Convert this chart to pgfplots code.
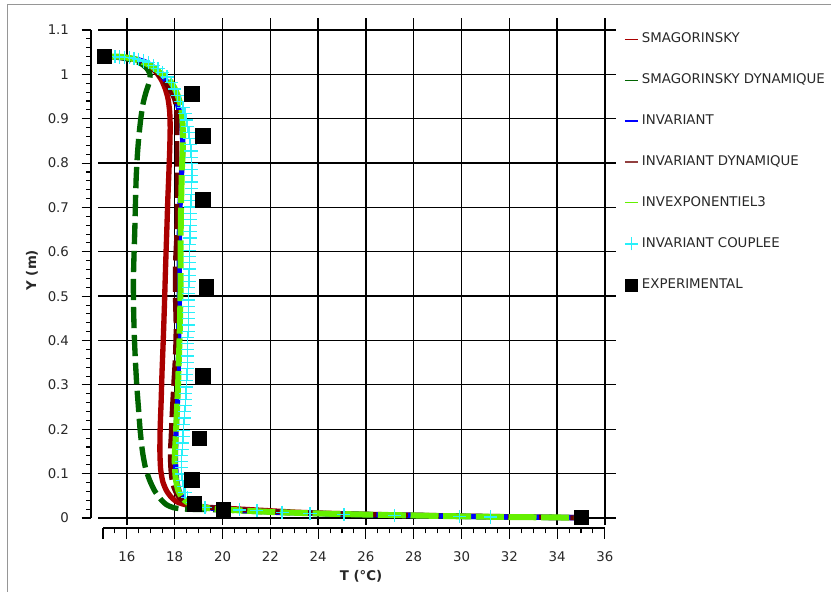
\documentclass[border=0pt]{standalone}
\usepackage{fontspec}
\setmainfont{DejaVu Sans}
\usepackage{pgfplots}
\pgfplotsset{compat=1.18}
\definecolor{smagred}{RGB}{170,0,0}
\definecolor{smagdyn}{RGB}{0,100,0}
\definecolor{invblue}{RGB}{0,0,255}
\definecolor{invdyn}{RGB}{110,0,0}
\definecolor{invexp}{RGB}{100,240,0}
\definecolor{invcyan}{RGB}{40,240,250}
\definecolor{framegray}{RGB}{150,150,150}
\definecolor{txt}{RGB}{40,40,40}
\begin{document}
\begin{tikzpicture}
\pgfplotsset{every axis/.append style={font=\fontsize{10}{12}\selectfont, /pgf/number format/assume math mode=true}}
% frame
\draw[framegray, line width=0.75pt] (5.25pt,0pt) -- (5.25pt,440.25pt) -- (623.25pt,440.25pt);
% offset y axis
\begin{axis}[at={(68.25pt,55.5pt)}, anchor=south west, x=1pt, y=332.7pt,
 xmin=0,xmax=1,ymin=0,ymax=1.1,
 axis y line=left, axis x line=none, axis line style={-, line width=1pt},
 xtick=\empty,
 ytick={0,0.1,0.2,0.3,0.4,0.5,0.6,0.7,0.8,0.9,1,1.1},
 yticklabels={0,0.1,0.2,0.3,0.4,0.5,0.6,0.7,0.8,0.9,1,1.1},
 minor y tick num=4,
 tick align=outside, major tick length=7pt, minor tick length=3.75pt,
 tick style={black, line width=0.8pt},
 yticklabel style={txt},
 yticklabel shift=6pt,
 ylabel={\textbf{Y (m)}},
 every axis y label/.style={at={(axis description cs:-44.25,0.508)}, rotate=90, anchor=center, txt},
]
\end{axis}
% offset x axis
\begin{axis}[at={(77.25pt,48pt)}, anchor=south west, x=17.925pt, y=1pt,
 xmin=15,xmax=36,ymin=0,ymax=1,
 axis x line=bottom, axis y line=none, axis line style={-, line width=1pt},
 ytick=\empty,
 xtick={16,18,20,22,24,26,28,30,32,34,36},
 xticklabels={16,18,20,22,24,26,28,30,32,34,36},
 extra x ticks={15}, extra x tick labels={},
 minor xtick={15.5,16,...,35.5},
 tick align=outside, major tick length=8pt, minor tick length=4pt,
 tick style={black, line width=0.8pt},
 xticklabel style={txt},
 xticklabel shift=6pt,
 xlabel={\textbf{T (°C)}},
 every axis x label/.style={at={(axis description cs:0.514,-36)}, anchor=center, txt},
]
\end{axis}
% main axis: grid + data
\begin{axis}[at={(73.5pt,50.25pt)}, anchor=south west, x=17.925pt, y=332.7pt,
 xmin=14.79, xmax=36.46, ymin=-0.016, ymax=1.127,
 axis line style={draw=none},
 xtick={16,18,20,22,24,26,28,30,32,34,36},
 ytick={0,0.1,0.2,0.3,0.4,0.5,0.6,0.7,0.8,0.9,1,1.1},
 xticklabel={\relax}, yticklabel={\relax},
 major tick length=0pt, minor tick length=0pt,
 grid=major,
 major grid style={black, line width=1pt},
 clip=false,
 legend cell align=left,
 legend style={at={(axis description cs:1,1)}, anchor=north west, xshift=6pt, yshift=-11pt,
   draw=none, fill=none, inner sep=0pt, row sep=20.6pt,
   nodes={inner ysep=0pt, inner xsep=2.5pt, text height=7.5pt, text depth=2.5pt, text=txt}},
]
\addplot[smagred, line width=4pt, line join=round, smooth, tension=0.4,
  legend image code/.code={\draw[smagred, line width=1.1pt] (0pt,0pt) -- (9.75pt,0pt);}]
 table {
15.30 1.040
15.80 1.038
16.30 1.034
16.70 1.027
17.00 1.017
17.25 1.003
17.45 0.987
17.60 0.968
17.72 0.945
17.79 0.915
17.81 0.880
17.79 0.830
17.75 0.770
17.71 0.717
17.67 0.650
17.62 0.570
17.57 0.480
17.52 0.400
17.47 0.330
17.43 0.260
17.39 0.200
17.38 0.150
17.41 0.110
17.50 0.082
17.65 0.062
17.85 0.047
18.10 0.036
18.50 0.029
19.00 0.025
20.00 0.022
21.00 0.019
22.00 0.016
23.00 0.013
24.00 0.011
26.00 0.008
28.00 0.006
30.00 0.004
32.00 0.0025
34.00 0.001
35.00 0.0005
};
\addlegendentry{SMAGORINSKY}
\addplot[smagdyn, line width=4pt, dash pattern=on 16pt off 5pt, smooth, tension=0.4,
  legend image code/.code={\draw[smagdyn, line width=1.1pt] (0pt,0pt) -- (9.75pt,0pt);}]
 table {
15.30 1.040
15.80 1.037
16.30 1.031
16.65 1.022
16.88 1.010
16.97 0.998
16.92 0.980
16.80 0.960
16.68 0.935
16.58 0.900
16.50 0.860
16.44 0.820
16.39 0.770
16.36 0.717
16.33 0.650
16.29 0.580
16.27 0.530
16.28 0.470
16.31 0.410
16.35 0.360
16.41 0.300
16.48 0.250
16.55 0.200
16.65 0.150
16.78 0.112
16.95 0.085
17.15 0.062
17.40 0.043
17.65 0.030
17.95 0.023
18.40 0.020
19.00 0.019
20.00 0.018
22.00 0.013
24.00 0.010
26.00 0.0075
28.00 0.0055
30.00 0.0035
32.00 0.002
35.00 0.0005
};
\addlegendentry{SMAGORINSKY DYNAMIQUE}
\addplot[invblue, line width=4pt, line join=round, smooth, tension=0.4,
  legend image code/.code={\draw[invblue, line width=1.1pt] (0pt,0pt) -- (9.75pt,0pt);}]
 table {
15.30 1.040
15.80 1.038
16.30 1.035
16.80 1.027
17.20 1.012
17.55 0.992
17.85 0.968
18.05 0.945
18.20 0.915
18.30 0.880
18.34 0.840
18.30 0.790
18.24 0.730
18.20 0.660
18.19 0.590
18.19 0.510
18.17 0.430
18.15 0.345
18.11 0.260
18.05 0.187
18.03 0.130
18.08 0.085
18.20 0.058
18.40 0.042
18.80 0.030
19.40 0.023
20.00 0.020
22.00 0.0135
24.00 0.0100
26.00 0.0075
28.00 0.0055
30.00 0.0035
32.00 0.002
35.00 0.0005
};
\addlegendentry{INVARIANT}
\addplot[invdyn, line width=3.5pt, dash pattern=on 19pt off 4.5pt, smooth, tension=0.4,
  legend image code/.code={\draw[invdyn!75!white, line width=1.1pt] (0pt,0pt) -- (9.75pt,0pt);}]
 table {
15.30 1.040
15.80 1.038
16.30 1.034
16.80 1.025
17.25 1.003
17.55 0.985
17.80 0.965
18.00 0.942
18.08 0.915
18.10 0.880
18.10 0.800
18.10 0.717
18.08 0.640
18.02 0.570
18.02 0.500
18.05 0.430
18.02 0.364
17.95 0.300
17.88 0.230
17.84 0.180
17.81 0.150
17.82 0.120
17.86 0.093
17.95 0.070
18.10 0.052
18.30 0.040
18.70 0.030
19.20 0.025
20.00 0.021
22.00 0.0145
24.00 0.0105
26.00 0.008
28.00 0.0055
30.00 0.0035
32.00 0.002
35.00 0.0005
};
\addlegendentry{INVARIANT DYNAMIQUE}
\addplot[invexp, line width=4.5pt, dash pattern=on 21pt off 3.5pt, smooth, tension=0.4,
  legend image code/.code={\draw[invexp, line width=1.1pt] (0pt,0pt) -- (9.75pt,0pt);}]
 table {
15.30 1.040
15.84 1.039
16.40 1.033
16.97 1.020
17.40 1.003
17.80 0.985
18.00 0.968
18.14 0.950
18.25 0.930
18.30 0.913
18.35 0.860
18.33 0.820
18.30 0.785
18.27 0.717
18.25 0.640
18.25 0.560
18.24 0.500
18.21 0.420
18.17 0.350
18.14 0.300
18.09 0.240
18.05 0.190
18.01 0.150
18.00 0.125
18.04 0.090
18.14 0.063
18.30 0.046
18.50 0.036
18.90 0.027
19.40 0.022
20.00 0.019
22.00 0.0135
24.00 0.010
26.00 0.0075
28.00 0.0055
30.00 0.0035
32.00 0.002
35.00 0.0005
};
\addlegendentry{INVEXPONENTIEL3}
\addplot[invcyan, only marks, mark=+, mark size=4.9pt, mark options={line width=0.9pt},
  legend image code/.code={\draw[invcyan, line width=0.9pt] (0pt,0pt) -- (9.75pt,0pt) (4.875pt,-4.875pt) -- (4.875pt,4.875pt);}]
 table {
15.30 1.040
15.50 1.040
15.70 1.039
15.90 1.038
16.10 1.037
16.30 1.035
16.50 1.033
16.70 1.030
16.90 1.026
17.10 1.020
17.30 1.013
17.50 1.004
17.68 0.994
17.85 0.981
18.00 0.967
18.13 0.953
18.25 0.939
18.35 0.925
18.43 0.911
18.50 0.897
18.55 0.883
18.60 0.869
18.63 0.855
18.66 0.841
18.68 0.827
18.70 0.813
18.71 0.799
18.72 0.785
18.72 0.771
18.71 0.757
18.70 0.743
18.69 0.729
18.68 0.715
18.67 0.701
18.66 0.687
18.66 0.673
18.65 0.659
18.64 0.645
18.64 0.631
18.63 0.617
18.63 0.603
18.62 0.589
18.61 0.575
18.61 0.561
18.60 0.547
18.60 0.533
18.59 0.519
18.59 0.505
18.58 0.491
18.58 0.477
18.57 0.463
18.57 0.449
18.56 0.435
18.56 0.421
18.55 0.407
18.55 0.393
18.55 0.379
18.54 0.365
18.53 0.351
18.52 0.337
18.51 0.323
18.50 0.309
18.48 0.295
18.47 0.281
18.45 0.267
18.44 0.253
18.42 0.239
18.40 0.225
18.38 0.211
18.36 0.197
18.35 0.183
18.33 0.169
18.31 0.155
18.30 0.141
18.29 0.127
18.29 0.113
18.30 0.099
18.32 0.085
18.36 0.071
18.43 0.058
18.55 0.046
18.75 0.035
19.27 0.024
20.70 0.018
21.44 0.016
22.49 0.013
23.66 0.010
25.08 0.0075
27.18 0.005
29.90 0.003
31.20 0.002
35.00 0.0005
};
\addlegendentry{INVARIANT COUPLEE}
\addplot[black, only marks, mark=square*, mark size=5.4pt,
  legend image code/.code={\fill[black] (0.4pt,-4.5pt) rectangle (9.4pt,4.5pt);}]
 table {
15.04 1.040
18.72 0.956
19.18 0.861
19.18 0.717
19.31 0.521
19.18 0.320
19.02 0.180
18.72 0.086
18.81 0.032
20.02 0.018
35.00 0.002
};
\addlegendentry{EXPERIMENTAL}
\end{axis}
\pgfresetboundingbox
\path[use as bounding box] (0pt,0pt) rectangle (623.25pt,444pt);
\end{tikzpicture}
\end{document}
